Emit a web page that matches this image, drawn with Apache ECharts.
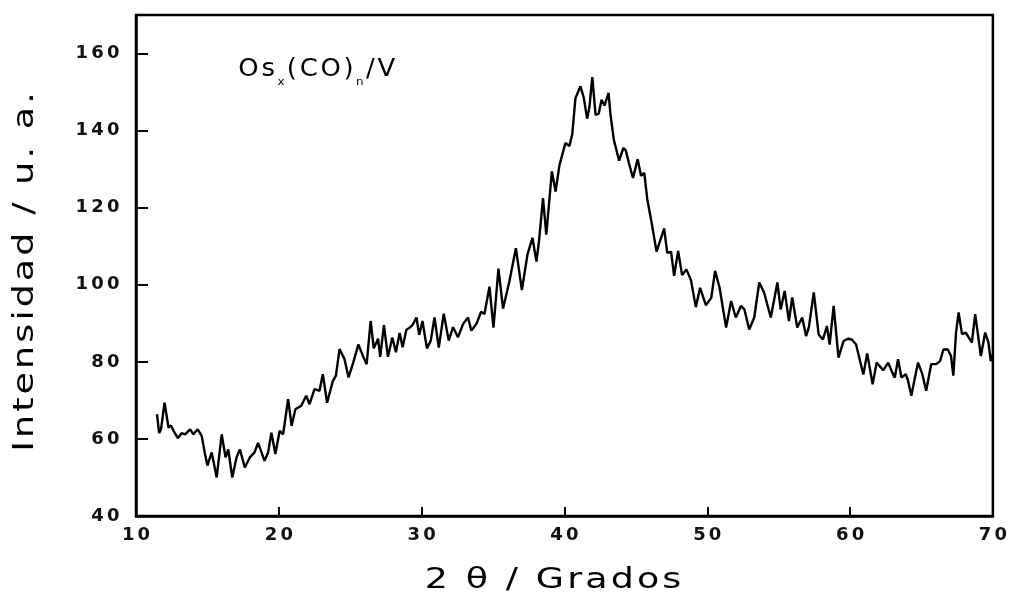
<!DOCTYPE html>
<html>
<head>
<meta charset="utf-8">
<script src="https://cdn.jsdelivr.net/npm/echarts@6/dist/echarts.min.js"></script>
<style>
  html, body { margin: 0; padding: 0; background: #fff; }
  #chart { width: 1010px; height: 596px; }
</style>
</head>
<body>
<div id="chart"></div>
<script>
// Diffractogram of Os_x(CO)_n/V : 2θ (degrees) against intensity (a.u.)
const twoTheta = [
  11.47, 11.62, 11.75, 12.0, 12.28, 12.45, 12.63, 12.93, 13.2, 13.44, 13.79, 14.02, 14.32, 14.6, 14.83,
  15.0, 15.3, 15.65, 16.0, 16.27, 16.46, 16.74, 17.04, 17.27, 17.62, 17.97, 18.3, 18.55, 19.0, 19.25,
  19.48, 19.76, 20.06, 20.3, 20.65, 20.9, 21.16, 21.57, 21.92, 22.15, 22.5, 22.85, 23.08, 23.38, 23.78,
  24.0, 24.25, 24.6, 24.88, 25.18, 25.57, 25.88, 26.15, 26.43, 26.65, 26.95, 27.1, 27.36, 27.64, 27.95,
  28.2, 28.46, 28.67, 28.93, 29.2, 29.35, 29.64, 29.83, 30.06, 30.37, 30.64, 30.9, 31.2, 31.55, 31.9,
  32.2, 32.55, 32.9, 33.25, 33.48, 33.83, 34.17, 34.4, 34.75, 35.03, 35.38, 35.7, 36.14, 36.6, 37.02,
  37.41, 37.76, 38.04, 38.22, 38.5, 38.73, 39.12, 39.38, 39.65, 40.07, 40.35, 40.55, 40.77, 41.12, 41.35,
  41.59, 41.75, 41.95, 42.18, 42.4, 42.6, 42.81, 43.09, 43.22, 43.46, 43.83, 44.13, 44.3, 44.5, 44.8,
  45.13, 45.36, 45.59, 45.8, 46.1, 46.45, 46.98, 47.2, 47.47, 47.68, 47.96, 48.24, 48.54, 48.86, 49.2,
  49.5, 49.9, 50.28, 50.55, 50.86, 51.32, 51.67, 52.0, 52.36, 52.6, 52.94, 53.29, 53.64, 53.98, 54.45,
  54.91, 55.14, 55.42, 55.72, 55.95, 56.3, 56.65, 56.92, 57.11, 57.46, 57.8, 58.1, 58.38, 58.57, 58.85,
  59.19, 59.54, 59.85, 60.12, 60.42, 60.93, 61.2, 61.58, 61.86, 62.32, 62.67, 62.9, 63.13, 63.36, 63.6,
  63.9, 64.06, 64.29, 64.52, 64.76, 65.06, 65.33, 65.68, 66.03, 66.3, 66.54, 66.84, 67.07, 67.23, 67.42,
  67.6, 67.84, 68.1, 68.53, 68.76, 69.16, 69.46, 69.69, 69.85, 70.0
];
const intensity = [
  66.4, 61.5, 62.5, 69.4, 62.9, 63.5, 62.1, 60.2, 61.5, 61.2, 62.5, 61.2, 62.5, 60.8, 56.1,
  53.1, 56.5, 50.0, 61.2, 55.2, 57.3, 50.0, 55.2, 57.3, 52.6, 55.2, 56.5, 59.0, 54.3, 56.5,
  61.6, 56.1, 62.1, 61.2, 70.3, 63.4, 67.7, 68.6, 71.2, 69.0, 72.9, 72.5, 76.8, 69.4, 75.0,
  76.4, 83.3, 80.7, 76.0, 79.4, 84.5, 81.6, 79.4, 90.6, 83.5, 86.0, 81.3, 89.5, 81.3, 86.3,
  82.5, 87.5, 83.8, 88.3, 89.0, 89.5, 91.5, 87.0, 90.6, 83.5, 85.5, 91.5, 83.7, 92.5, 85.5,
  89.0, 86.4, 89.8, 91.5, 88.1, 89.8, 93.0, 92.4, 99.5, 88.9, 104.2, 93.8, 100.8, 109.5, 98.6,
  107.8, 112.2, 106.0, 111.4, 122.5, 113.0, 129.4, 124.2, 131.0, 136.8, 136.0, 139.1, 148.4, 151.5, 148.6,
  143.1, 146.1, 153.9, 144.1, 144.4, 148.0, 146.5, 149.8, 144.3, 137.6, 132.2, 135.5, 134.8, 131.8, 127.7,
  132.6, 128.3, 129.0, 122.2, 116.2, 108.6, 114.6, 108.3, 108.5, 102.3, 108.8, 102.5, 104.0, 101.2, 94.2,
  99.2, 94.7, 96.6, 103.6, 99.3, 88.9, 95.8, 91.5, 94.5, 93.6, 88.4, 91.5, 100.6, 98.0, 91.5,
  100.6, 93.6, 98.4, 90.6, 96.7, 88.9, 91.5, 86.7, 88.9, 98.0, 87.1, 85.8, 89.3, 84.5, 94.5,
  81.1, 85.4, 86.0, 85.8, 84.5, 76.7, 82.2, 74.2, 79.8, 77.8, 79.8, 77.7, 75.9, 80.7, 75.9,
  76.8, 75.1, 71.2, 75.5, 79.8, 76.8, 72.5, 79.4, 79.4, 80.2, 83.2, 83.2, 81.5, 76.4, 87.6,
  92.8, 87.2, 87.6, 85.0, 92.4, 81.5, 87.6, 85.0, 80.2, 82.0
];

const xTitle = '2 θ / Grados';
const yTitle = 'Intensidad / u. a.';
const FONT = 'DejaVu Sans';
const INK = '#000';

// Wrap every character in its own rich token so the padding spreads the letters out.
function spaced(text, key) {
  return Array.from(text).map(c => '{' + key + '|' + c + '}').join('');
}

const chart = echarts.init(document.getElementById('chart'), null, { renderer: 'canvas' });

const tickRich = {
  d: { fontFamily: FONT, fontSize: 18, fontWeight: 'bold', color: '#111', padding: [0, 1.6, 0, 1.6] }
};
const titleRich = {
  t: { fontFamily: FONT, fontSize: 28, color: '#111', padding: [0, 1.2, 0, 1.2] }
};

chart.setOption({
  backgroundColor: '#fff',
  animation: false,
  grid: {
    left: 136, right: 13, top: 15, bottom: 80,
    show: true, borderColor: '#000', borderWidth: 2.5
  },
  xAxis: {
    type: 'value', min: 10, max: 70, interval: 10,
    axisLine: { show: true, onZero: false, lineStyle: { color: '#000', width: 2.5 } },
    axisTick: { show: true, inside: true, length: 9, lineStyle: { color: '#000', width: 2 } },
    splitLine: { show: false },
    axisLabel: {
      margin: 10,
      formatter: v => spaced(String(v), 'd'),
      rich: tickRich
    }
  },
  yAxis: {
    type: 'value', min: 40, max: 170, interval: 20,
    axisLine: { show: true, lineStyle: { color: '#000', width: 2.5 } },
    axisTick: { show: true, inside: true, length: 12, lineStyle: { color: '#000', width: 2 } },
    splitLine: { show: false },
    axisLabel: {
      margin: 15,
      showMaxLabel: false,
      formatter: v => (v % 20 === 0 ? spaced(String(v), 'd') : ''),
      rich: tickRich
    }
  },
  series: [{
    type: 'line',
    data: twoTheta.map((x, i) => [x, intensity[i]]),
    showSymbol: false,
    clip: true,
    lineStyle: { color: '#000', width: 2.4 },
    emphasis: { disabled: true }
  }],
  graphic: [
    {
      type: 'text', x: 26, y: 272, rotation: Math.PI / 2, scaleX: 1.3,
      style: {
        text: spaced(yTitle, 't'), rich: titleRich,
        align: 'center', verticalAlign: 'middle',
        textAlign: 'center', textVerticalAlign: 'middle'
      }
    },
    {
      type: 'text', x: 553, y: 581, scaleX: 1.3,
      style: {
        text: spaced(xTitle, 't'), rich: titleRich,
        align: 'center', verticalAlign: 'middle',
        textAlign: 'center', textVerticalAlign: 'middle'
      }
    },
    {
      // sample label with subscripts
      type: 'text', x: 237, y: 70, scaleX: 1.08,
      style: {
        text: spaced('Os', 'm') + '{s|x}' + spaced('(CO)', 'm') + '{s|n}' + spaced('/V', 'm'),
        rich: {
          m: { fontFamily: FONT, fontSize: 24, lineHeight: 36, color: '#111', padding: [0, 1.25, 0, 1.25] },
          s: { fontFamily: FONT, fontSize: 11, color: '#111', verticalAlign: 'bottom', padding: [0, 1, 0, 1] }
        },
        align: 'left', verticalAlign: 'middle',
        textAlign: 'left', textVerticalAlign: 'middle'
      }
    }
  ]
});
</script>
</body>
</html>
